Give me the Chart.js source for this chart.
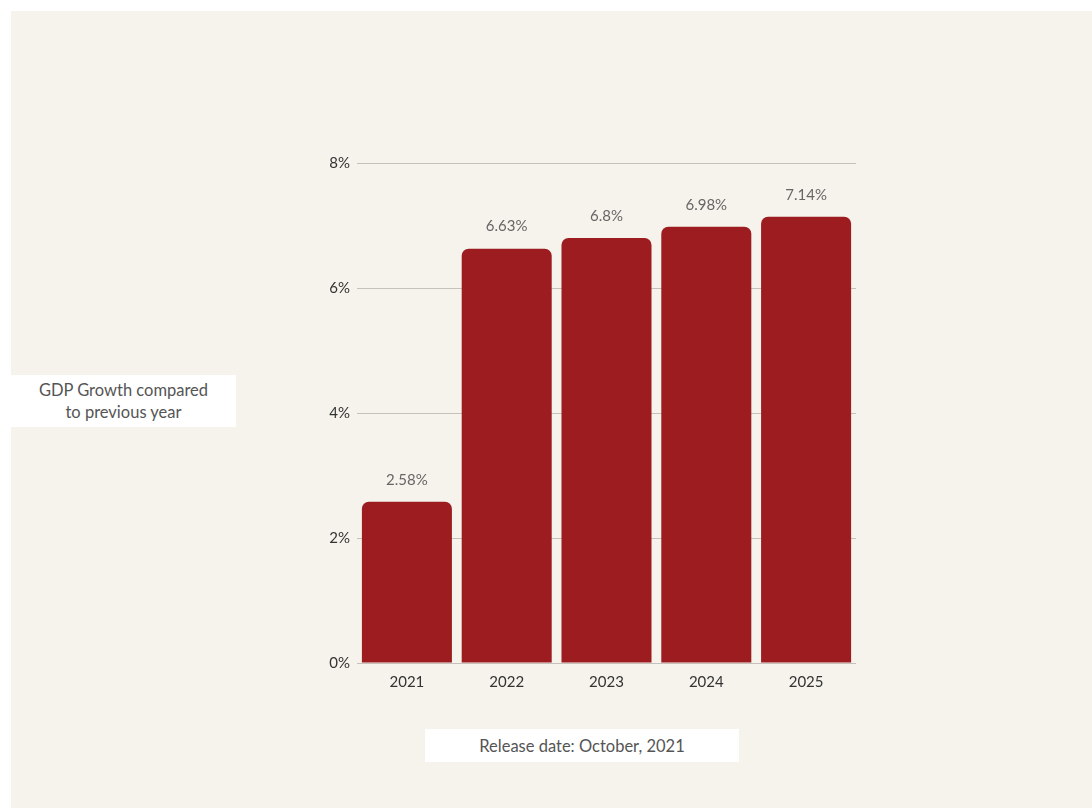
<!DOCTYPE html>
<html>
<head>
<meta charset="utf-8">
<script src="https://cdn.jsdelivr.net/npm/chart.js@4"></script>
<style>
  html, body { margin: 0; padding: 0; background: #ffffff; }
  #wrap { position: absolute; left: 11px; top: 11px; width: 1081px; height: 797px; background: #f6f3ec; }
  #chartBox { position: absolute; left: 0; top: 0; width: 1092px; height: 811px; }
  .note { position: absolute; background: #ffffff; color: #555; font-family: Lato, "Open Sans", sans-serif;
          font-size: 16.5px; text-align: center; display: flex; align-items: center; justify-content: center; line-height: 22px; }
</style>
</head>
<body>
<div id="wrap"></div>
<div id="chartBox"><canvas id="gdpChart" width="1092" height="811"></canvas></div>
<div class="note" style="left:11px; top:375px; width:225px; height:52px;">GDP Growth compared<br>to previous year</div>
<div class="note" style="left:425px; top:729px; width:314px; height:33px;">Release date: October, 2021</div>
<script>
const years = ['2021', '2022', '2023', '2024', '2025'];
const growth = [2.58, 6.63, 6.8, 6.98, 7.14];
const yTicks = [0, 2, 4, 6, 8];

// value labels over each bar
const barLabels = {
  id: 'barLabels',
  afterDatasetsDraw(chart) {
    const ctx = chart.ctx;
    const meta = chart.getDatasetMeta(0);
    ctx.save();
    ctx.fillStyle = '#666';
    ctx.font = '15px Lato, "Open Sans", sans-serif';
    ctx.textAlign = 'center';
    ctx.textBaseline = 'middle';
    meta.data.forEach((bar, i) => {
      ctx.fillText(growth[i] + '%', bar.x, bar.y - 22);
    });
    ctx.restore();
  }
};

const ctx = document.getElementById('gdpChart');
new Chart(ctx, {
  type: 'bar',
  data: {
    labels: years,
    datasets: [{
      data: growth,
      backgroundColor: '#9c1c20',
      borderRadius: { topLeft: 7, topRight: 7 },
      borderSkipped: 'bottom',
      barPercentage: 0.902,
      categoryPercentage: 1
    }]
  },
  options: {
    responsive: false,
    animation: false,
    layout: { padding: { left: 295, right: 236, top: 163, bottom: 108 } },
    plugins: { legend: { display: false }, tooltip: { enabled: false } },
    scales: {
      x: {
        grid: { display: false },
        border: { display: false },
        ticks: { color: '#333', font: { family: 'Lato, "Open Sans", sans-serif', size: 15 }, padding: 2 },
        afterFit(scale) { scale.height = 40; }
      },
      y: {
        min: 0,
        max: 8,
        afterBuildTicks(scale) { scale.ticks = yTicks.map(v => ({ value: v })); },
        grid: { color: '#c6c2bb', lineWidth: 1, drawTicks: false },
        border: { display: false },
        ticks: {
          color: '#333',
          font: { family: 'Lato, "Open Sans", sans-serif', size: 15 },
          padding: 7,
          callback: v => v + '%'
        },
        afterFit(scale) { scale.width = 62; }
      }
    }
  },
  plugins: [barLabels]
});
</script>
</body>
</html>
